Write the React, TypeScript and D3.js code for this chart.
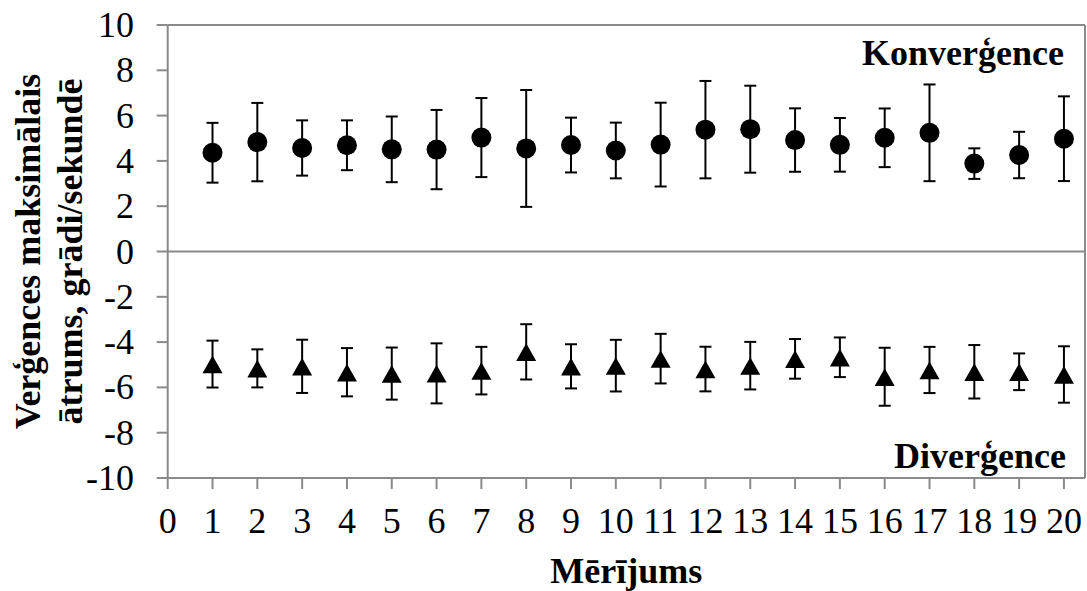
import React from "react";
import * as d3 from "d3";

const measurements = [1, 2, 3, 4, 5, 6, 7, 8, 9, 10, 11, 12, 13, 14, 15, 16, 17, 18, 19, 20];
const convMean = [4.36, 4.83, 4.57, 4.69, 4.51, 4.5, 5.03, 4.55, 4.7, 4.46, 4.72, 5.38, 5.4, 4.92, 4.71, 5.02, 5.24, 3.88, 4.26, 4.98];
const convSd = [1.32, 1.73, 1.22, 1.1, 1.45, 1.75, 1.745, 2.58, 1.21, 1.23, 1.85, 2.15, 1.92, 1.4, 1.185, 1.295, 2.135, 0.675, 1.025, 1.87];
const divMean = [-4.97, -5.16, -5.07, -5.33, -5.39, -5.38, -5.26, -4.43, -5.07, -5.04, -4.73, -5.19, -5.04, -4.74, -4.67, -5.53, -5.23, -5.31, -5.31, -5.43];
const divSd = [1.035, 0.84, 1.175, 1.065, 1.15, 1.325, 1.05, 1.22, 0.975, 1.14, 1.095, 0.985, 1.05, 0.875, 0.875, 1.28, 1.02, 1.18, 0.81, 1.245];
const xTicks = [0, 1, 2, 3, 4, 5, 6, 7, 8, 9, 10, 11, 12, 13, 14, 15, 16, 17, 18, 19, 20];
const yTicks = [-10, -8, -6, -4, -2, 0, 2, 4, 6, 8, 10];

const W = 1087;
const H = 591;
const left = 167.7;
const right = 1085;
const top = 25;
const bottom = 478;
const FONT = "'Liberation Serif', 'Times New Roman', serif";
const AX = "#8a8a8a";
const FS = 36;

export default function App() {
  const x = d3.scaleLinear().domain([0, 20.47]).range([left, right]);
  const y = d3.scaleLinear().domain([-10, 10]).range([bottom, top]);
  const capW = 6;

  const triPath = (cx: number, cy: number) =>
    `M${cx},${cy - 8.5} L${cx + 10},${cy + 9.2} L${cx - 10},${cy + 9.2} Z`;

  return (
    <svg
      width={W}
      height={H}
      style={{ position: "absolute", left: 0, top: 0, background: "#fff" }}
      fontFamily={FONT}
    >
      <rect x={0} y={0} width={W} height={H} fill="#fff" />
      {/* plot frame */}
      <line x1={left} x2={right} y1={top} y2={top} stroke={AX} strokeWidth={2} />
      <line x1={right} x2={right} y1={top} y2={bottom} stroke={AX} strokeWidth={2} />
      <line x1={left} x2={right} y1={y(0)} y2={y(0)} stroke={AX} strokeWidth={2} />
      <line x1={left} x2={right} y1={bottom} y2={bottom} stroke={AX} strokeWidth={2} />
      <line x1={left} x2={left} y1={top} y2={bottom} stroke={AX} strokeWidth={2} />

      {/* y ticks */}
      {yTicks.map((t) => (
        <g key={"y" + t}>
          <line x1={left - 11} x2={left} y1={y(t)} y2={y(t)} stroke={AX} strokeWidth={2} />
          <text x={134} y={y(t) + 12} textAnchor="end" fontSize={FS} fill="#000">
            {t}
          </text>
        </g>
      ))}

      {/* x ticks */}
      {xTicks.map((t) => (
        <g key={"x" + t}>
          <line x1={x(t)} x2={x(t)} y1={bottom} y2={bottom + 11} stroke={AX} strokeWidth={2} />
          <text x={x(t)} y={533} textAnchor="middle" fontSize={FS} fill="#000">
            {t}
          </text>
        </g>
      ))}

      {/* convergence */}
      {measurements.map((m, i) => {
        const cx = x(m);
        const hi = y(convMean[i] + convSd[i]);
        const lo = y(convMean[i] - convSd[i]);
        return (
          <g key={"c" + m}>
            <line x1={cx} x2={cx} y1={hi} y2={lo} stroke="#000" strokeWidth={2} />
            <line x1={cx - capW} x2={cx + capW} y1={hi} y2={hi} stroke="#000" strokeWidth={2} />
            <line x1={cx - capW} x2={cx + capW} y1={lo} y2={lo} stroke="#000" strokeWidth={2} />
            <circle cx={cx} cy={y(convMean[i])} r={10} fill="#000" />
          </g>
        );
      })}

      {/* divergence */}
      {measurements.map((m, i) => {
        const cx = x(m);
        const hi = y(divMean[i] + divSd[i]);
        const lo = y(divMean[i] - divSd[i]);
        return (
          <g key={"d" + m}>
            <line x1={cx} x2={cx} y1={hi} y2={lo} stroke="#000" strokeWidth={2} />
            <line x1={cx - capW} x2={cx + capW} y1={hi} y2={hi} stroke="#000" strokeWidth={2} />
            <line x1={cx - capW} x2={cx + capW} y1={lo} y2={lo} stroke="#000" strokeWidth={2} />
            <path d={triPath(cx, y(divMean[i]))} fill="#000" />
          </g>
        );
      })}

      {/* annotations */}
      <text x={1064} y={65} textAnchor="end" fontSize={FS} fontWeight="bold" fill="#000">
        Konverģence
      </text>
      <text x={1066} y={468} textAnchor="end" fontSize={FS} fontWeight="bold" fill="#000">
        Diverģence
      </text>

      {/* axis titles */}
      <text x={(left + right) / 2} y={583} textAnchor="middle" fontSize={FS} fontWeight="bold" fill="#000">
        Mērījums
      </text>
      <g transform={`translate(0, ${(top + bottom) / 2}) rotate(-90)`}>
        <text x={0} y={40} textAnchor="middle" fontSize={FS} fontWeight="bold" fill="#000">
          Verģences maksimālais
        </text>
        <text x={0} y={82} textAnchor="middle" fontSize={FS} fontWeight="bold" fill="#000">
          ātrums, grādi/sekundē
        </text>
      </g>
    </svg>
  );
}
